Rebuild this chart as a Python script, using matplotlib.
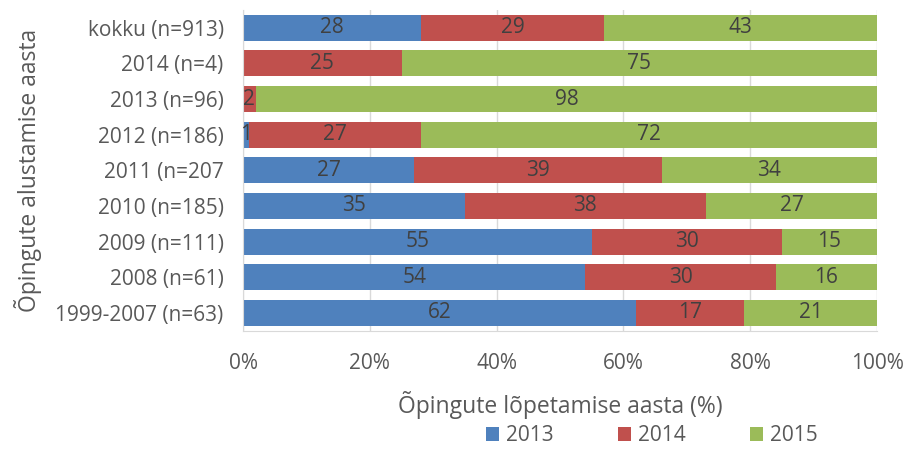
import matplotlib.pyplot as plt
import numpy as np

plt.rcParams['font.family'] = ['Open Sans', 'DejaVu Sans']

categories = ["kokku (n=913)", "2014 (n=4)", "2013 (n=96)", "2012 (n=186)", "2011 (n=207",
              "2010 (n=185)", "2009 (n=111)", "2008 (n=61)", "1999-2007 (n=63)"]
v2013 = [28, 0, 0, 1, 27, 35, 55, 54, 62]
v2014 = [29, 25, 2, 27, 39, 38, 30, 30, 17]
v2015 = [43, 75, 98, 72, 34, 27, 15, 16, 21]
series = ["2013", "2014", "2015"]
colors = ["#4F81BD", "#C0504D", "#9BBB59"]

fig = plt.figure(figsize=(9.07, 4.5), dpi=100)
ax = fig.add_axes([0.268, 0.265, 0.699, 0.713])

y = np.arange(len(categories))
left = np.zeros(len(categories))
for name, vals, col in zip(series, [v2013, v2014, v2015], colors):
    vals = np.array(vals, dtype=float)
    ax.barh(y, vals, left=left, height=0.73, color=col, label=name, zorder=2)
    for yi, l, v in zip(y, left, vals):
        if v > 0:
            ax.text(l + v / 2, yi, "%d" % v, ha='center', va='center',
                    fontsize=15, color='#404040', zorder=3)
    left += vals

ax.set_xlim(0, 100)
ax.set_ylim(len(categories) - 0.5, -0.5)
ax.set_yticks(y)
ax.set_yticklabels(categories)
ax.set_xticks([0, 20, 40, 60, 80, 100])
ax.set_xticklabels(["0%", "20%", "40%", "60%", "80%", "100%"])
ax.tick_params(axis='both', length=0, labelsize=15, labelcolor='#595959')
ax.tick_params(axis='x', pad=16)
ax.tick_params(axis='y', pad=14)
ax.grid(axis='x', color='#D9D9D9', linewidth=1, zorder=0)
for s in ['top', 'right']:
    ax.spines[s].set_visible(False)
ax.spines['left'].set_color('#D9D9D9')
ax.spines['bottom'].set_color('#D9D9D9')

ax.set_xlabel("Õpingute lõpetamise aasta (%)", fontsize=16.5, color='#595959', va='center')
ax.xaxis.set_label_coords(0.5, -0.232)
ax.set_ylabel("Õpingute alustamise aasta", fontsize=16.5, color='#595959', va='center')
ax.yaxis.set_label_coords(-0.339, 0.5)

ax.legend(loc='center', bbox_to_anchor=(0.645, -0.327), ncol=3, frameon=False,
          fontsize=15, labelcolor='#595959', handlelength=0.62, handleheight=0.62,
          columnspacing=3.1, handletextpad=0.33, borderpad=0)

fig.savefig("out.png", dpi=100)
